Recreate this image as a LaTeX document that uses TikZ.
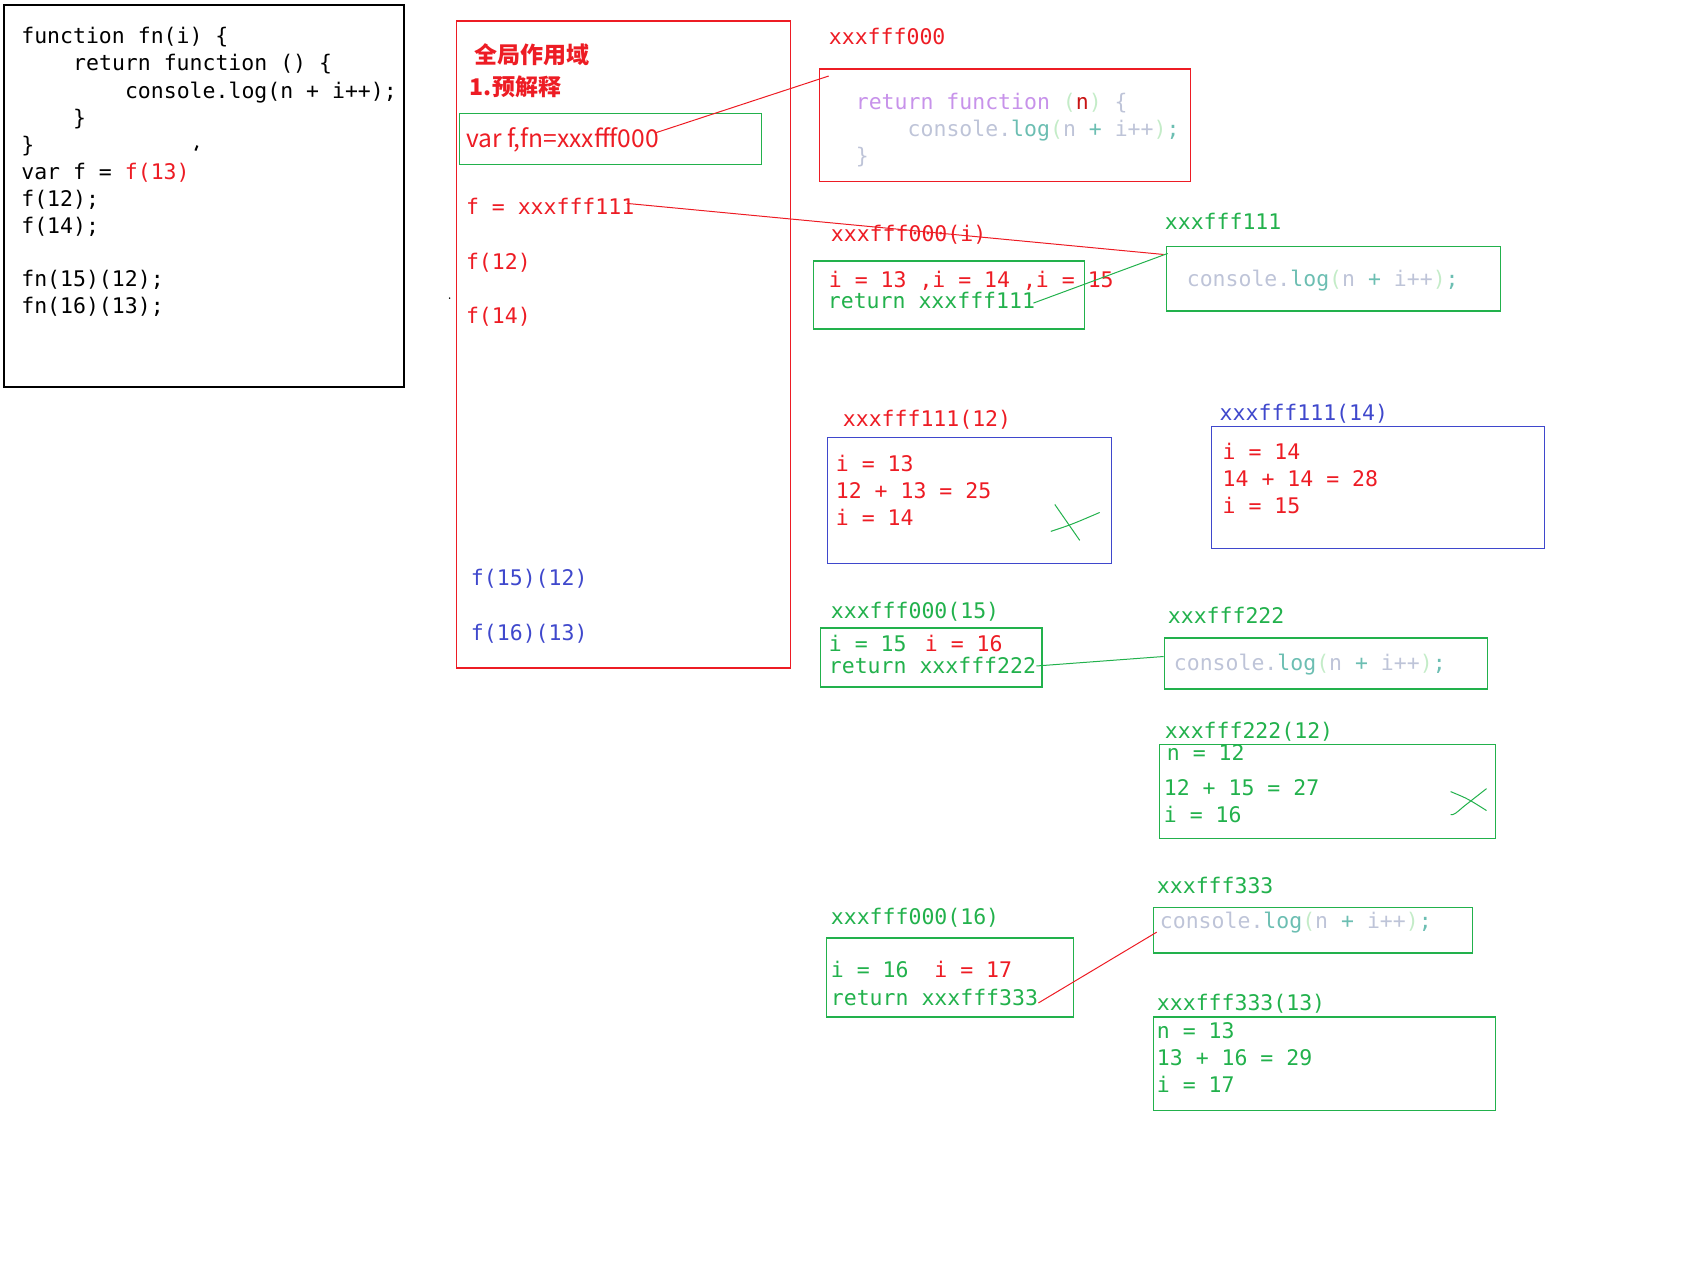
\documentclass[tikz,border=0pt]{standalone}
\usepackage{fontspec}
\newfontfamily\codefont{DejaVu Sans Mono}
\newfontfamily\cjkfont{Noto Sans CJK SC}
\usetikzlibrary{fit}

\definecolor{pRed}{RGB}{237,28,36}
\definecolor{pGreen}{RGB}{34,177,76}
\definecolor{pBlue}{RGB}{63,72,204}
\definecolor{cPurple}{RGB}{199,146,234}
\definecolor{cGrey}{RGB}{190,196,216}
\definecolor{cTeal}{RGB}{108,190,178}
\definecolor{cMint}{RGB}{196,236,200}
\definecolor{cDark}{RGB}{200,20,20}

\newcommand{\logline}{\textcolor{cGrey}{console.}\textcolor{cTeal}{log}\textcolor{cMint}{(}\textcolor{cGrey}{n} \textcolor{cTeal}{+} \textcolor{cGrey}{i++}\textcolor{cMint}{)}\textcolor{cTeal}{;}}

\tikzset{
  mem/.style={draw, line width=0.75pt, inner sep=0pt},
  memblack/.style={mem, draw=black},
  memred/.style={mem, draw=pRed},
  memgreen/.style={mem, draw=pGreen},
  memblue/.style={mem, draw=pBlue},
  code/.style={font=\codefont\fontsize{10.75pt}{13pt}\selectfont, anchor=west, inner sep=0pt, text height=7.7pt, text depth=0pt},
  cjk/.style={font=\cjkfont\fontsize{11.5pt}{14pt}\selectfont, anchor=west, inner sep=0pt, text=pRed},
  wire/.style={line width=0.5pt},
}

\begin{document}
\begin{tikzpicture}[x=0.5pt,y=-0.5pt]
	\useasboundingbox (0,0) rectangle (1683,1281);
	\begin{scope}[scale=0.997]

	% Source code
	\node[memblack, fit={(4,5) (405,388)}] (src) {};
	\node[code] (s1) at (21,36) {function fn(i) \{};
	\node[code] (s2) at (73,63) {return function () \{};
	\node[code] (s3) at (125,91) {console.log(n + i++);};
	\node[code] (s4) at (73,118) {\}};
	\node[code] (s5) at (21,145) {\}};
	\node[code] (s6) at (21,172) {var f = \textcolor{pRed}{f(13)}};
	\node[code] (s7) at (21,199) {f(12);};
	\node[code] (s8) at (21,226) {f(14);};
	\node[code] (s9) at (21,280) {fn(15)(12);};
	\node[code] (s10) at (21,307) {fn(16)(13);};
	\draw[line width=1pt] (198,146) -- (196,151);

	% Global scope
	\node[memred, fit={(458,21) (793,670)}] (global) {};
	\node[cjk, font=\cjkfont\bfseries\fontsize{11.5pt}{14pt}\selectfont] (title) at (476,55) {全局作用域};
	\node[cjk, font=\cjkfont\bfseries\fontsize{11.5pt}{14pt}\selectfont] (pre) at (471,87) {1.预解释};
	\node[memgreen, fit={(461,114) (764,165)}] (varbox) {};
	\node[cjk, font=\cjkfont\fontsize{12.3pt}{14pt}\selectfont] (var) at (467,140) {var f,fn=xxxfff000};
	\node[code, text=pRed] (f111) at (467,207) {f = xxxfff111};
	\node[code, text=pRed] (f12) at (467,263) {f(12)};
	\node[code, text=pRed] (f14) at (467,317) {f(14)};
	\node[code, text=pBlue] (f1512) at (472,580) {f(15)(12)};
	\node[code, text=pBlue] (f1613) at (472,635) {f(16)(13)};
	\fill (451,299) circle (0.8);

	% Heap: xxxfff000
	\node[code, text=pRed] (a000) at (831,37) {xxxfff000};
	\node[memred, fit={(822,69) (1194,182)}] (fn000) {};
	\node[code] (r1) at (858,102) {\textcolor{cPurple}{return function} \textcolor{cMint}{(}\textcolor{cDark}{n}\textcolor{cMint}{)} \textcolor{cGrey}{\{}};
	\node[code] (r2) at (910,129) {\logline};
	\node[code, text=cGrey] (r3) at (858,156) {\}};

	% Call f(13)
	\node[code, text=pRed] (c13) at (833,234) {xxxfff000(i)};
	\node[memgreen, fit={(816,262) (1088,330)}] (env13) {};
	\node[code, text=pRed] (i13) at (831,281) {i = 13 ,i = 14 ,i = 15};
	\node[code, text=pGreen] (ret111) at (830,302) {return xxxfff111};

	\node[code, text=pGreen] (a111) at (1168,222) {xxxfff111};
	\node[memgreen, fit={(1170,247) (1505,312)}] (fn111) {};
	\node[code] (log111) at (1190,280) {\logline};

	% Call f(12)
	\node[code, text=pRed] (c12) at (845,420) {xxxfff111(12)};
	\node[memblue, fit={(830,439) (1115,565)}] (env12) {};
	\node[code, text=pRed] (e12a) at (838,465) {i = 13};
	\node[code, text=pRed] (e12b) at (838,492) {12 + 13 = 25};
	\node[code, text=pRed] (e12c) at (838,519) {i = 14};
	\draw[pGreen, wire] (1058,506) -- (1083,542);
	\draw[pGreen, wire] (1054,533) .. controls (1075,526) .. (1103,514);

	% Call f(14)
	\node[code, text=pBlue] (c14) at (1223,414) {xxxfff111(14)};
	\node[memblue, fit={(1215,428) (1549,550)}] (env14) {};
	\node[code, text=pRed] (e14a) at (1226,453) {i = 14};
	\node[code, text=pRed] (e14b) at (1226,480) {14 + 14 = 28};
	\node[code, text=pRed] (e14c) at (1226,507) {i = 15};

	% Call fn(15)
	\node[code, text=pGreen] (c15) at (833,613) {xxxfff000(15)};
	\node[memgreen, fit={(823,630) (1045,689)}] (env15) {};
	\node[code, text=pGreen] (i15) at (831,646) {i = 15\hspace{2.7pt} \textcolor{pRed}{i = 16}};
	\node[code, text=pGreen] (ret222) at (831,668) {return xxxfff222};

	\node[code, text=pGreen] (a222) at (1171,618) {xxxfff222};
	\node[memgreen, fit={(1168,640) (1492,691)}] (fn222) {};
	\node[code] (log222) at (1177,665) {\logline};

	\node[code, text=pGreen] (c222) at (1168,733) {xxxfff222(12)};
	\node[memgreen, fit={(1163,747) (1500,841)}] (env222) {};
	\node[code, text=pGreen] (e222a) at (1170,755) {n = 12};
	\node[code, text=pGreen] (e222b) at (1167,790) {12 + 15 = 27};
	\node[code, text=pGreen] (e222c) at (1167,817) {i = 16};
	\draw[pGreen, wire] (1455,794) .. controls (1472,801) .. (1491,813);
	\draw[pGreen, wire] (1491,791) -- (1468,809) .. controls (1461,815) and (1458,818) .. (1455,817);

	% Call fn(16)
	\node[code, text=pGreen] (c16) at (833,920) {xxxfff000(16)};
	\node[memgreen, fit={(829,941) (1077,1020)}] (env16) {};
	\node[code, text=pGreen] (i16) at (833,973) {i = 16\ \ \textcolor{pRed}{i = 17}};
	\node[code, text=pGreen] (ret333) at (833,1001) {return xxxfff333};

	\node[code, text=pGreen] (a333) at (1160,888) {xxxfff333};
	\node[memgreen, fit={(1157,910) (1477,956)}] (fn333) {};
	\node[code] (log333) at (1163,924) {\logline};

	\node[code, text=pGreen] (c333) at (1160,1006) {xxxfff333(13)};
	\node[memgreen, fit={(1157,1020) (1500,1114)}] (env333) {};
	\node[code, text=pGreen] (e333a) at (1160,1034) {n = 13};
	\node[code, text=pGreen] (e333b) at (1160,1061) {13 + 16 = 29};
	\node[code, text=pGreen] (e333c) at (1160,1088) {i = 17};

	% Links
	\draw[pRed, wire] ([shift={(-3,-7)}]var.east) -- ([shift={(10,8)}]fn000.north west);
	\draw[pRed, wire] ([shift={(-8,-3)}]f111.east) -- ([shift={(-2,9)}]fn111.north west);
	\draw[pGreen, wire] ([shift={(-2,2)}]ret111.east) -- ([shift={(2,8)}]fn111.north west);
	\draw[pGreen, wire] (ret222.east) -- ([shift={(0,-7)}]fn222.west);
	\draw[pRed, wire] ([shift={(0,5)}]ret333.east) -- ([shift={(4,2)}]fn333.west);
	\end{scope}
\end{tikzpicture}
\end{document}
